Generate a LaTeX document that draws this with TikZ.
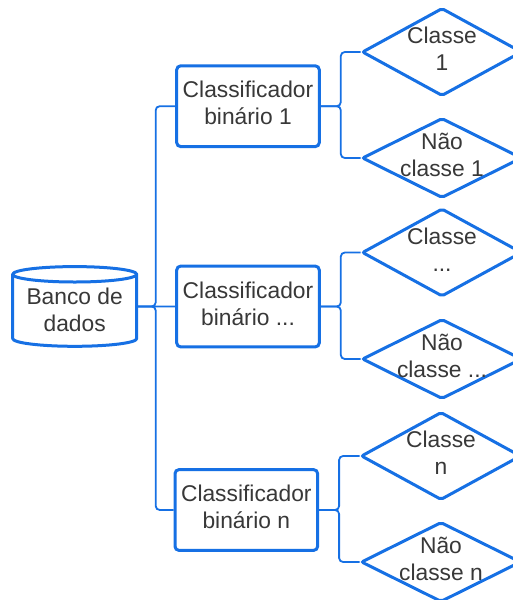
\documentclass[tikz,border=0pt]{standalone}
\usepackage{fontspec}
\setmainfont{Liberation Sans}
\usetikzlibrary{shapes.geometric}
\definecolor{flowblue}{RGB}{22,112,228}
\definecolor{inkgray}{RGB}{56,56,56}
\begin{document}
\begin{tikzpicture}[x=1pt,y=-1pt,
  txt/.style={text=inkgray, font=\fontsize{22.8}{27}\selectfont, align=center,
    inner sep=0pt, text depth=6pt},
  classbox/.style={txt, draw=flowblue, line width=3pt, rounded corners=4pt, fill=white,
    minimum width=142.6pt, minimum height=80.8pt},
  decision/.style={diamond, draw=flowblue, line width=3pt, rounded corners=2pt,
    fill=white, inner sep=0pt, minimum width=160pt},
  conn/.style={draw=flowblue, line width=1.8pt, rounded corners=4pt},
  dbshape/.style={draw=flowblue, line width=3pt, fill=white, line join=round}]
\clip (0,0) rectangle (513,600);

% database body (the cylinder is drawn around this node)
\node[inner sep=0pt, outer sep=0pt, minimum width=124pt, minimum height=64.3pt] (db) at (74.7,306.45) {};

% classifiers
\node[classbox] (c1) at (248,106.2) {Classificador\\binário 1};
\node[classbox] (c2) at (248,306.5) {Classificador\\binário ...};
\node[classbox] (c3) at (246.3,510) {Classificador\\binário n};

% outcomes
\node[decision, minimum height=88pt] (d1) at (442,52) {};
\node[decision, minimum height=80pt] (d2) at (442,158) {};
\node[decision, minimum height=88pt] (d3) at (442,252.5) {};
\node[decision, minimum height=80pt] (d4) at (442,359) {};
\node[decision, minimum height=88pt] (d5) at (441,456) {};
\node[decision, minimum height=80pt] (d6) at (441,562) {};

% connectors from the database to the classifiers
\draw[conn] (db.east) -- ++(19,0) |- (c1.west);
\draw[conn] (db.east) -- (c2.west);
\draw[conn] (db.east) -- ++(19,0) |- (c3.west);

% connectors from each classifier to its two outcomes
\draw[conn] (c1.east) -- ++(20,0) |- (d1.west);
\draw[conn] (c1.east) -- ++(20,0) |- (d2.west);
\draw[conn] (c2.east) -- ++(20,0) |- (d3.west);
\draw[conn] (c2.east) -- ++(20,0) |- (d4.west);
\draw[conn] (c3.east) -- ++(20,0) |- (d5.west);
\draw[conn] (c3.east) -- ++(20,0) |- (d6.west);

% database cylinder
\path[dbshape] (db.north west) -- (db.south west)
  arc[start angle=180, end angle=360, x radius=62pt, y radius=7.7pt]
  -- (db.north east)
  arc[start angle=0, end angle=180, x radius=62pt, y radius=7.7pt] -- cycle;
\draw[dbshape, fill=none] (db.north west)
  arc[start angle=180, end angle=360, x radius=62pt, y radius=7.7pt];
\node[txt] (dbt) at (74.7,313) {Banco de\\dados};

% outcome labels
\node[txt] (d1t) at (d1) {Classe\\1};
\node[txt] (d2t) at (d2) {Não\\classe 1};
\node[txt] (d3t) at (d3) {Classe\\...};
\node[txt] (d4t) at (d4) {Não\\classe ...};
\node[txt] (d5t) at (d5) {Classe\\n};
\node[txt] (d6t) at (d6) {Não\\classe n};
\end{tikzpicture}
\end{document}
